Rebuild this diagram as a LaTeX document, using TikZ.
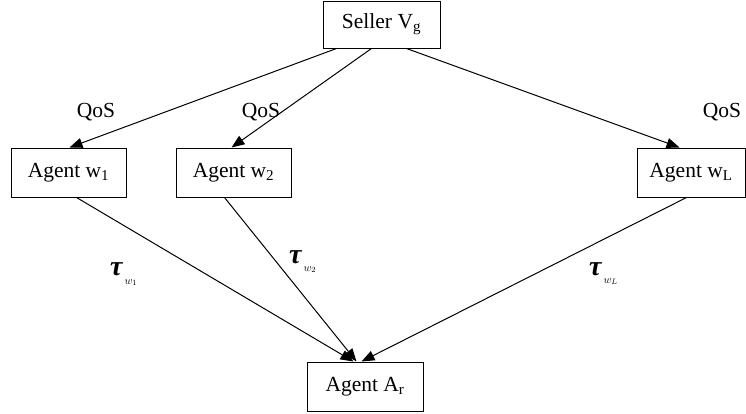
\documentclass[tikz,border=0pt]{standalone}
\usepackage{amsmath}
\usepackage{fontspec}
\setmainfont{Liberation Serif}
\usetikzlibrary{arrows.meta,calc}
\begin{document}
\begin{tikzpicture}[x=1pt,y=-1pt,
  box/.style={draw,line width=1pt,inner sep=0pt,font=\fontsize{21.5}{24}\selectfont},
  arr/.style={-{Triangle[length=13pt,width=10pt]},line width=1pt},
  lbl/.style={font=\fontsize{21.5}{24}\selectfont,inner sep=0pt},
  taulbl/.style={inner sep=0pt,anchor=base west}]
\useasboundingbox (0,0) rectangle (746,413);
\node[box,minimum width=117pt,minimum height=47pt] (seller) at (381.5,24.5) {Seller V\textsubscript{g}};
\node[box,minimum width=115pt,minimum height=49pt] (w1) at (68.5,172.5) {Agent w\textsubscript{1}};
\node[box,minimum width=115pt,minimum height=49pt] (w2) at (233.5,172.5) {Agent w\textsubscript{2}};
\node[box,minimum width=108pt,minimum height=49pt] (wL) at (691,172.5) {Agent w\textsubscript{L}};
\node[box,minimum width=116pt,minimum height=49pt] (ar) at (365,386.5) {Agent A\textsubscript{r}};
% upper arrows
\draw[arr] ($(seller.south west)+(14,0)$) -- ($(w1.north west)+(59,0)$);
\draw[arr] ($(seller.south west)+(49,0)$) -- ($(w2.north west)+(56,0)$);
\draw[arr] ($(seller.south west)+(84,0)$) -- ($(wL.north west)+(43,0)$);
% lower arrows
\draw[arr] ($(w1.south west)+(66,0)$) -- ($(ar.north west)+(47,0)$);
\draw[arr] ($(w2.south west)+(49,0)$) -- ($(ar.north west)+(50,0)$);
\draw[arr] ($(wL.south west)+(50,0)$) -- ($(ar.north west)+(55,0)$);
% labels
\node[lbl] (q1) at (96,112) {QoS};
\node[lbl] (q2) at (261,112) {QoS};
\node[lbl] (q3) at (722,112) {QoS};
\node[taulbl] (t1) at (110,275) {{\fontsize{28}{28}\selectfont\bfseries\itshape τ}\kern2pt\raisebox{-9pt}{\fontsize{11}{11}\selectfont$w_1$}};
\node[taulbl] (t2) at (289,263) {{\fontsize{28}{28}\selectfont\bfseries\itshape τ}\kern2pt\raisebox{-8pt}{\fontsize{11}{11}\selectfont$w_2$}};
\node[taulbl] (t3) at (589,275) {{\fontsize{28}{28}\selectfont\bfseries\itshape τ}\kern2pt\raisebox{-8pt}{\fontsize{11}{11}\selectfont$w_L$}};
\end{tikzpicture}
\end{document}
